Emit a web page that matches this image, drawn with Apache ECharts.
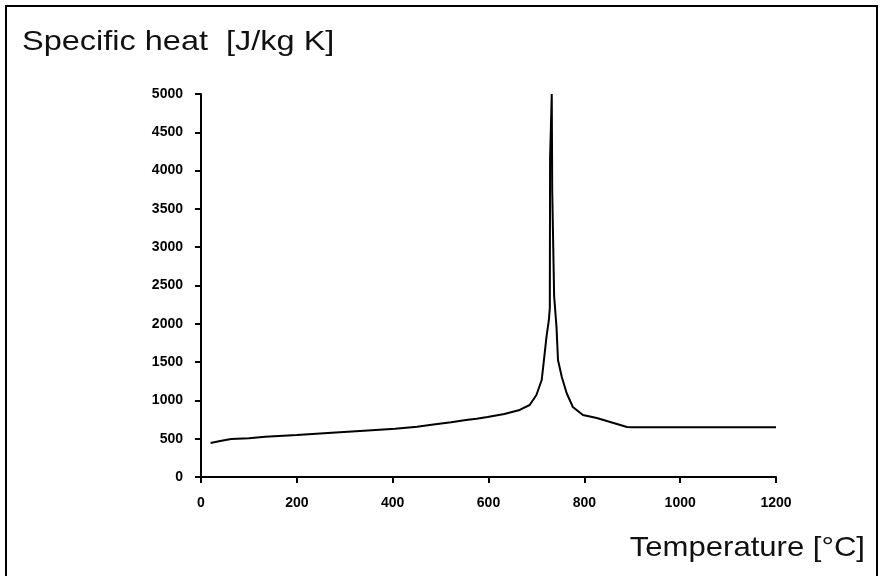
<!DOCTYPE html>
<html>
<head>
<meta charset="utf-8">
<script src="https://cdn.jsdelivr.net/npm/echarts@6/dist/echarts.min.js"></script>
<style>
html,body{margin:0;padding:0;background:#fff;}
#chart{width:882px;height:576px;}
</style>
</head>
<body>
<div id="chart"></div>
<script>
// Temperature [°C]
var temperature = [20, 40, 63, 100, 134, 200, 273, 340, 405, 451, 489, 522, 553, 575, 598, 633, 665, 686, 700, 711, 715, 721, 726, 728, 728.5, 731, 732, 733, 736, 737, 741, 742, 745, 753, 763, 776, 797, 826, 854, 889, 900, 1200];
// Specific heat [J/kg K]
var specificHeat = [444, 470, 496, 505, 526, 548, 578, 605, 631, 657, 688, 714, 744, 761, 783, 822, 875, 940, 1070, 1266, 1488, 1828, 2050, 2210, 4150, 4150, 5000, 3730, 3730, 2360, 2360, 1950, 1527, 1305, 1097, 914, 809, 770, 718, 653, 650, 650];
var xTicks = [0, 200, 400, 600, 800, 1000, 1200];
var yTicks = [0, 500, 1000, 1500, 2000, 2500, 3000, 3500, 4000, 4500, 5000];
var yTitle = 'Specific heat  [J/kg K]';
var xTitle = 'Temperature [°C]';

var points = temperature.map(function (t, i) { return [t, specificHeat[i]]; });

var chart = echarts.init(document.getElementById('chart'), null, {renderer: 'canvas'});
var labelFont = {color: '#000', fontFamily: 'Liberation Sans', fontWeight: 'bold', fontSize: 14,
  formatter: function (v) { return String(v); }};
chart.setOption({
  animation: false,
  backgroundColor: '#fff',
  grid: {left: 201, right: 106, top: 94, bottom: 99, containLabel: false},
  graphic: [
    {type: 'rect', shape: {x: 6, y: 6, width: 871, height: 590}, style: {fill: 'none', stroke: '#000', lineWidth: 2}},
    {type: 'text', x: 22, y: 28, scaleX: 1.16, style: {text: yTitle, font: '28px "Liberation Sans"', fill: '#111', textVerticalAlign: 'top'}},
    {type: 'text', x: 865, y: 534, scaleX: 1.11, style: {text: xTitle, font: '28px "Liberation Sans"', fill: '#111', textAlign: 'right', textVerticalAlign: 'top'}}
  ],
  xAxis: {
    type: 'value', min: xTicks[0], max: xTicks[xTicks.length - 1], interval: 200,
    axisLine: {lineStyle: {color: '#000', width: 2}},
    axisTick: {show: true, length: 6, inside: false, lineStyle: {color: '#000', width: 2}},
    axisLabel: Object.assign({margin: 19}, labelFont),
    splitLine: {show: false}
  },
  yAxis: {
    type: 'value', min: yTicks[0], max: yTicks[yTicks.length - 1], interval: 500,
    axisLine: {show: true, lineStyle: {color: '#000', width: 2}},
    axisTick: {show: true, length: 6, inside: false, lineStyle: {color: '#000', width: 2}},
    axisLabel: Object.assign({margin: 18}, labelFont),
    splitLine: {show: false}
  },
  series: [{
    type: 'line',
    data: points,
    showSymbol: false,
    symbol: 'none',
    lineStyle: {color: '#000', width: 2},
    z: 3
  }]
});
</script>
</body>
</html>
